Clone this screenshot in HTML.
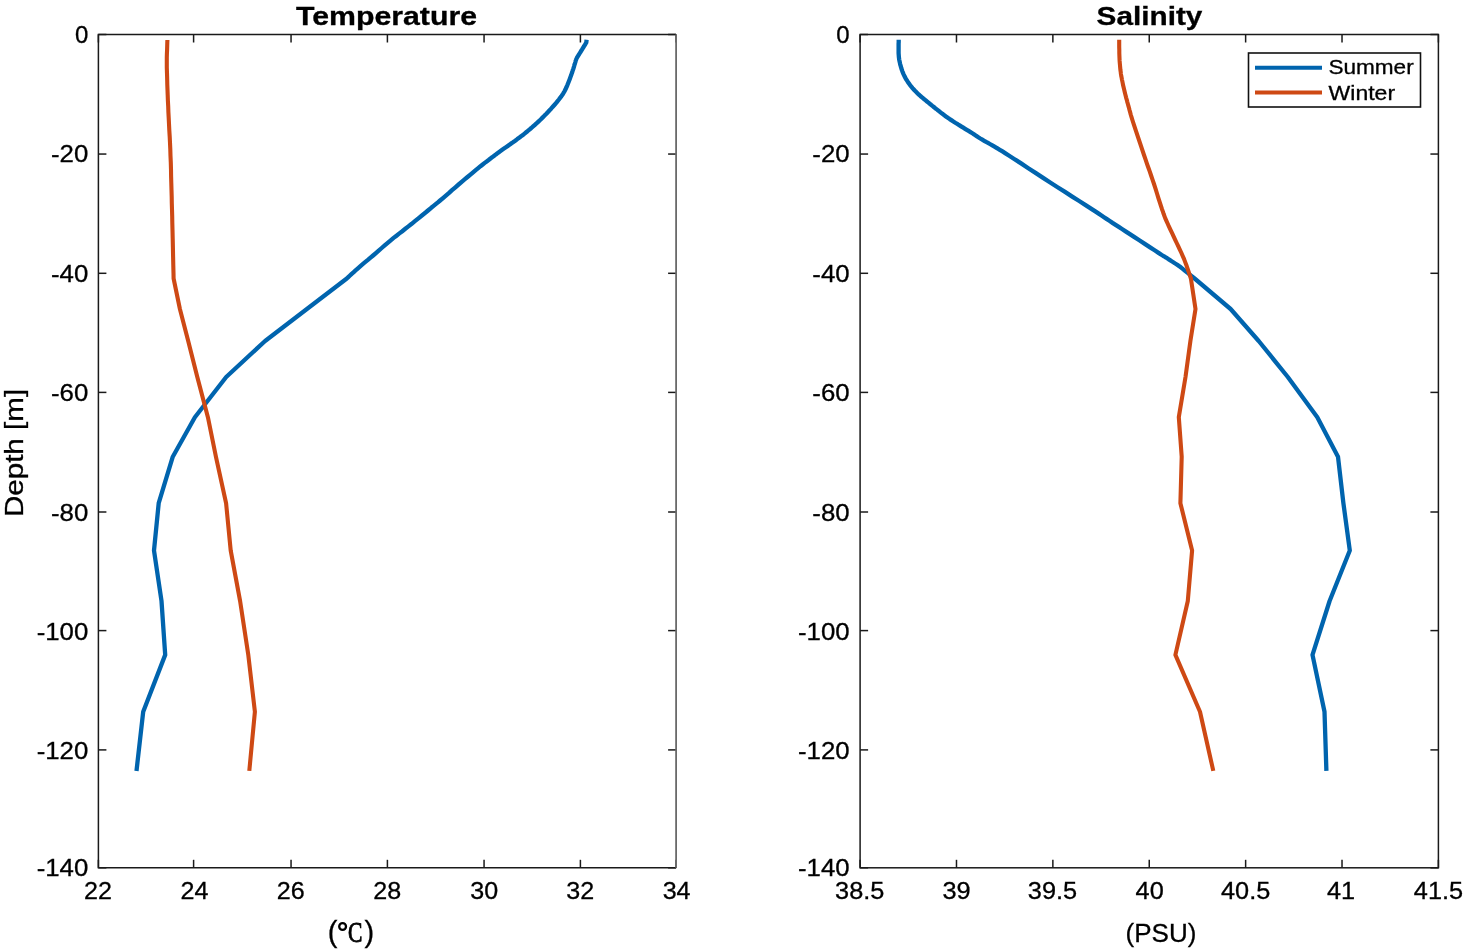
<!DOCTYPE html>
<html><head><meta charset="utf-8"><style>
html,body{margin:0;padding:0;background:#fff;}
svg{display:block;will-change:transform;filter:blur(0.35px);}
text{stroke:#000;stroke-width:0.3px;}
</style></head><body>
<svg width="1465" height="950" viewBox="0 0 1465 950">
<rect width="1465" height="950" fill="#fff"/>
<g stroke="#1a1a1a" stroke-width="1.5"><line x1="98.40" y1="34.5" x2="98.40" y2="42.5" /><line x1="98.40" y1="867.8" x2="98.40" y2="859.8" /><line x1="193.60" y1="34.5" x2="193.60" y2="42.5" /><line x1="193.60" y1="867.8" x2="193.60" y2="859.8" /><line x1="291.05" y1="34.5" x2="291.05" y2="42.5" /><line x1="291.05" y1="867.8" x2="291.05" y2="859.8" /><line x1="387.40" y1="34.5" x2="387.40" y2="42.5" /><line x1="387.40" y1="867.8" x2="387.40" y2="859.8" /><line x1="484.06" y1="34.5" x2="484.06" y2="42.5" /><line x1="484.06" y1="867.8" x2="484.06" y2="859.8" /><line x1="580.40" y1="34.5" x2="580.40" y2="42.5" /><line x1="580.40" y1="867.8" x2="580.40" y2="859.8" /><line x1="676.10" y1="34.5" x2="676.10" y2="42.5" /><line x1="676.10" y1="867.8" x2="676.10" y2="859.8" /><line x1="98.4" y1="34.50" x2="106.4" y2="34.50" /><line x1="676.1" y1="34.50" x2="668.1" y2="34.50" /><line x1="98.4" y1="154.05" x2="106.4" y2="154.05" /><line x1="676.1" y1="154.05" x2="668.1" y2="154.05" /><line x1="98.4" y1="273.30" x2="106.4" y2="273.30" /><line x1="676.1" y1="273.30" x2="668.1" y2="273.30" /><line x1="98.4" y1="392.40" x2="106.4" y2="392.40" /><line x1="676.1" y1="392.40" x2="668.1" y2="392.40" /><line x1="98.4" y1="512.00" x2="106.4" y2="512.00" /><line x1="676.1" y1="512.00" x2="668.1" y2="512.00" /><line x1="98.4" y1="630.60" x2="106.4" y2="630.60" /><line x1="676.1" y1="630.60" x2="668.1" y2="630.60" /><line x1="98.4" y1="749.90" x2="106.4" y2="749.90" /><line x1="676.1" y1="749.90" x2="668.1" y2="749.90" /><line x1="98.4" y1="867.80" x2="106.4" y2="867.80" /><line x1="676.1" y1="867.80" x2="668.1" y2="867.80" /><path d="M676.1,34.5 L98.4,34.5 L98.4,867.8 L676.1,867.8" fill="none"/><line x1="676.1" y1="34.5" x2="676.1" y2="867.8" stroke="#6a6a6a" stroke-width="1.8"/></g>
<g stroke="#1a1a1a" stroke-width="1.5"><line x1="860.10" y1="34.5" x2="860.10" y2="42.5" /><line x1="860.10" y1="867.8" x2="860.10" y2="859.8" /><line x1="956.48" y1="34.5" x2="956.48" y2="42.5" /><line x1="956.48" y1="867.8" x2="956.48" y2="859.8" /><line x1="1052.87" y1="34.5" x2="1052.87" y2="42.5" /><line x1="1052.87" y1="867.8" x2="1052.87" y2="859.8" /><line x1="1149.25" y1="34.5" x2="1149.25" y2="42.5" /><line x1="1149.25" y1="867.8" x2="1149.25" y2="859.8" /><line x1="1245.63" y1="34.5" x2="1245.63" y2="42.5" /><line x1="1245.63" y1="867.8" x2="1245.63" y2="859.8" /><line x1="1342.02" y1="34.5" x2="1342.02" y2="42.5" /><line x1="1342.02" y1="867.8" x2="1342.02" y2="859.8" /><line x1="1438.40" y1="34.5" x2="1438.40" y2="42.5" /><line x1="1438.40" y1="867.8" x2="1438.40" y2="859.8" /><line x1="860.1" y1="34.50" x2="868.1" y2="34.50" /><line x1="1438.4" y1="34.50" x2="1430.4" y2="34.50" /><line x1="860.1" y1="154.05" x2="868.1" y2="154.05" /><line x1="1438.4" y1="154.05" x2="1430.4" y2="154.05" /><line x1="860.1" y1="273.30" x2="868.1" y2="273.30" /><line x1="1438.4" y1="273.30" x2="1430.4" y2="273.30" /><line x1="860.1" y1="392.40" x2="868.1" y2="392.40" /><line x1="1438.4" y1="392.40" x2="1430.4" y2="392.40" /><line x1="860.1" y1="512.00" x2="868.1" y2="512.00" /><line x1="1438.4" y1="512.00" x2="1430.4" y2="512.00" /><line x1="860.1" y1="630.60" x2="868.1" y2="630.60" /><line x1="1438.4" y1="630.60" x2="1430.4" y2="630.60" /><line x1="860.1" y1="749.90" x2="868.1" y2="749.90" /><line x1="1438.4" y1="749.90" x2="1430.4" y2="749.90" /><line x1="860.1" y1="867.80" x2="868.1" y2="867.80" /><line x1="1438.4" y1="867.80" x2="1430.4" y2="867.80" /><rect x="860.1" y="34.5" width="578.3000000000001" height="833.3" fill="none"/></g>
<polyline points="586.6,39.8 586.3,42.5 586.1,42.8 585.9,43.1 585.7,43.5 585.4,44.1 585.0,44.7 584.5,45.5 583.9,46.5 583.1,47.7 582.3,49.1 581.4,50.5 580.6,51.8 579.9,53.0 579.3,54.0 578.6,55.0 578.1,55.9 577.5,56.7 577.0,57.6 576.6,58.5 576.2,59.4 575.9,60.3 575.6,61.1 575.4,62.0 575.1,63.0 574.8,64.0 574.4,65.1 574.1,66.3 573.7,67.6 573.3,68.9 572.8,70.2 572.4,71.5 572.0,72.7 571.6,73.9 571.2,75.2 570.7,76.4 570.2,77.8 569.6,79.4 568.9,81.2 568.1,83.2 567.3,85.3 566.3,87.5 565.4,89.6 564.4,91.5 563.4,93.2 562.4,94.8 561.3,96.4 560.1,97.9 558.9,99.5 557.6,101.1 556.2,102.9 554.6,104.7 553.0,106.5 551.3,108.4 549.6,110.2 548.0,112.0 546.4,113.7 544.8,115.3 543.3,116.9 541.7,118.4 540.1,120.0 538.4,121.6 536.7,123.2 534.9,124.8 533.1,126.4 531.3,128.0 529.4,129.6 527.5,131.2 525.5,132.8 523.6,134.4 521.5,135.9 519.5,137.5 517.3,139.1 515.2,140.7 513.0,142.3 510.6,143.9 508.3,145.6 505.9,147.2 503.6,148.8 501.5,150.3 499.5,151.7 497.7,153.1 495.9,154.4 494.2,155.7 492.4,157.1 490.5,158.5 488.6,160.0 486.7,161.4 484.7,162.9 482.7,164.5 480.5,166.2 478.2,168.1 475.7,170.1 473.1,172.3 470.4,174.6 467.5,177.0 464.6,179.4 461.7,181.9 458.6,184.5 455.4,187.3 452.0,190.2 448.8,193.1 445.6,195.8 442.7,198.3 440.1,200.5 437.9,202.4 435.7,204.2 433.6,205.9 431.2,207.8 428.6,210.0 425.6,212.5 422.2,215.2 418.7,218.1 415.2,220.9 411.7,223.8 408.4,226.4 405.3,228.8 402.3,231.2 399.4,233.4 396.5,235.7 393.6,237.9 390.7,240.3 387.7,242.8 384.7,245.4 381.7,248.0 378.7,250.6 375.9,253.1 373.1,255.5 370.5,257.7 367.9,259.9 365.4,261.9 363.0,263.9 360.7,265.9 358.5,267.8 356.2,269.8 354.0,271.9 351.7,273.9 349.7,275.8 348.0,277.4 346.8,278.5 306.9,309.0 265.1,341.0 226.2,377.0 194.9,417.2 172.8,456.7 158.7,503.2 154.0,550.5 161.5,601.0 165.2,654.9 143.2,711.7 136.5,770.9" fill="none" stroke="#0064AE" stroke-width="4.3" stroke-linejoin="round" stroke-linecap="butt"/>
<polyline points="167.4,40.0 167.3,42.4 167.2,45.7 167.1,49.6 166.9,53.8 166.8,57.9 166.8,61.6 166.8,64.8 166.8,67.6 166.9,70.4 167.0,73.4 167.1,76.6 167.2,80.5 167.3,85.0 167.5,89.9 167.7,95.1 167.9,100.7 168.2,106.4 168.4,112.1 168.7,117.9 169.0,124.0 169.3,130.2 169.7,136.5 170.0,142.9 170.3,149.4 170.5,156.0 170.8,162.7 171.0,169.5 171.1,176.4 171.3,183.2 171.5,190.0 171.7,196.6 171.8,203.1 172.0,209.5 172.2,216.1 172.3,222.8 172.5,230.0 172.7,238.2 172.9,247.3 173.1,256.8 173.3,265.6 173.5,273.1 173.6,278.5 179.9,309.0 188.2,341.0 197.3,377.0 207.9,417.2 215.9,456.7 226.1,503.2 230.7,550.5 240.1,601.0 248.3,654.9 254.9,711.7 249.3,770.9" fill="none" stroke="#CE4914" stroke-width="4.1" stroke-linejoin="round" stroke-linecap="butt"/>
<polyline points="898.7,39.8 898.7,40.8 898.7,42.2 898.6,43.8 898.6,45.5 898.6,47.2 898.6,48.8 898.6,50.2 898.6,51.7 898.6,53.1 898.7,54.5 898.8,55.9 898.9,57.3 899.1,58.7 899.3,60.1 899.6,61.5 899.9,62.9 900.2,64.3 900.6,65.7 901.0,67.1 901.4,68.5 901.9,70.0 902.4,71.4 902.9,72.7 903.5,74.1 904.1,75.4 904.7,76.7 905.4,77.9 906.1,79.2 906.9,80.4 907.7,81.7 908.6,83.0 909.5,84.3 910.5,85.6 911.5,86.8 912.5,88.1 913.6,89.3 914.7,90.5 915.8,91.6 916.9,92.7 918.0,93.8 919.2,94.9 920.4,96.0 921.7,97.1 923.0,98.2 924.3,99.3 925.7,100.4 927.0,101.5 928.4,102.6 929.7,103.7 931.1,104.8 932.4,105.9 933.8,107.0 935.2,108.2 936.8,109.4 938.5,110.7 940.2,112.1 942.1,113.6 944.0,115.0 945.9,116.4 947.8,117.8 949.7,119.1 951.7,120.4 953.7,121.7 955.7,123.0 957.7,124.2 959.6,125.4 961.5,126.6 963.3,127.7 965.1,128.8 966.8,129.8 968.6,130.9 970.5,132.1 972.4,133.3 974.4,134.6 976.3,135.9 978.3,137.2 980.3,138.5 982.3,139.7 984.2,140.8 986.1,141.9 988.0,142.9 989.9,144.0 991.9,145.1 994.1,146.4 996.1,147.6 997.9,148.7 999.8,149.8 1002.1,151.2 1005.1,153.1 1009.2,155.7 1014.6,159.2 1021.1,163.4 1028.3,168.2 1035.9,173.1 1043.5,178.1 1050.6,182.7 1057.6,187.2 1065.0,191.9 1072.2,196.6 1079.2,201.0 1085.6,205.1 1091.0,208.6 1095.3,211.4 1098.7,213.6 1101.5,215.5 1104.0,217.2 1106.5,218.9 1109.4,220.8 1112.5,222.9 1115.6,224.9 1118.8,226.9 1122.0,229.0 1125.6,231.4 1129.5,233.9 1134.1,236.9 1139.3,240.3 1144.8,243.9 1150.1,247.4 1155.0,250.5 1158.9,253.1 1161.8,255.0 1164.0,256.3 1165.7,257.4 1167.1,258.2 1168.4,259.1 1170.0,260.1 1171.7,261.2 1173.3,262.2 1174.8,263.2 1176.4,264.2 1178.2,265.4 1180.1,266.8 1182.4,268.6 1185.1,270.8 1188.0,273.1 1190.7,275.3 1193.0,277.2 1194.6,278.5 1230.6,309.0 1258.7,341.0 1287.8,377.0 1317.3,417.2 1338.0,456.7 1343.4,503.2 1349.8,550.5 1329.6,601.0 1312.5,654.9 1324.5,711.7 1326.4,770.9" fill="none" stroke="#0064AE" stroke-width="4.3" stroke-linejoin="round" stroke-linecap="butt"/>
<polyline points="1119.2,39.8 1119.2,41.5 1119.2,44.0 1119.2,46.9 1119.3,49.9 1119.3,53.0 1119.4,55.7 1119.5,58.2 1119.6,60.7 1119.8,63.1 1120.0,65.4 1120.2,67.7 1120.4,69.9 1120.7,71.9 1120.9,73.8 1121.2,75.7 1121.6,77.5 1121.9,79.3 1122.3,81.2 1122.7,83.2 1123.1,85.3 1123.6,87.3 1124.1,89.4 1124.6,91.5 1125.1,93.6 1125.6,95.6 1126.1,97.6 1126.7,99.6 1127.2,101.6 1127.8,103.7 1128.4,105.9 1129.0,108.0 1129.5,110.0 1130.1,112.1 1130.7,114.5 1131.6,117.4 1132.7,121.0 1134.2,125.7 1136.1,131.3 1138.1,137.4 1140.2,143.7 1142.2,149.7 1144.0,155.0 1145.6,159.6 1147.0,163.8 1148.4,167.8 1149.8,171.6 1151.1,175.5 1152.5,179.6 1154.0,184.0 1155.5,188.7 1157.0,193.5 1158.4,198.1 1159.8,202.4 1161.0,206.1 1162.0,209.2 1162.9,211.6 1163.6,213.8 1164.4,215.9 1165.2,218.1 1166.3,220.6 1167.6,223.5 1169.0,226.7 1170.5,229.9 1172.1,233.2 1173.7,236.6 1175.2,239.8 1176.7,243.0 1178.2,246.2 1179.7,249.3 1181.2,252.5 1182.6,255.7 1184.0,258.9 1185.3,262.4 1186.7,266.1 1188.0,269.9 1189.2,273.4 1190.2,276.4 1190.9,278.5 1195.5,309.0 1190.4,341.0 1185.5,377.0 1178.8,417.2 1181.7,456.7 1180.4,503.2 1192.1,550.5 1187.8,601.0 1175.4,654.9 1200.0,711.7 1213.3,770.9" fill="none" stroke="#CE4914" stroke-width="4.1" stroke-linejoin="round" stroke-linecap="butt"/>
<text x="88.30" y="43.20" font-family="&quot;Liberation Sans&quot;, sans-serif" font-size="24" font-weight="normal" text-anchor="end">0</text>
<text x="849.60" y="43.20" font-family="&quot;Liberation Sans&quot;, sans-serif" font-size="24" font-weight="normal" text-anchor="end">0</text>
<text x="88.30" y="162.40" font-family="&quot;Liberation Sans&quot;, sans-serif" font-size="24" font-weight="normal" text-anchor="end" textLength="37.29" lengthAdjust="spacingAndGlyphs">-20</text>
<text x="849.60" y="162.40" font-family="&quot;Liberation Sans&quot;, sans-serif" font-size="24" font-weight="normal" text-anchor="end" textLength="37.29" lengthAdjust="spacingAndGlyphs">-20</text>
<text x="88.30" y="282.40" font-family="&quot;Liberation Sans&quot;, sans-serif" font-size="24" font-weight="normal" text-anchor="end" textLength="37.29" lengthAdjust="spacingAndGlyphs">-40</text>
<text x="849.60" y="282.40" font-family="&quot;Liberation Sans&quot;, sans-serif" font-size="24" font-weight="normal" text-anchor="end" textLength="37.29" lengthAdjust="spacingAndGlyphs">-40</text>
<text x="88.30" y="400.80" font-family="&quot;Liberation Sans&quot;, sans-serif" font-size="24" font-weight="normal" text-anchor="end" textLength="37.29" lengthAdjust="spacingAndGlyphs">-60</text>
<text x="849.60" y="400.80" font-family="&quot;Liberation Sans&quot;, sans-serif" font-size="24" font-weight="normal" text-anchor="end" textLength="37.29" lengthAdjust="spacingAndGlyphs">-60</text>
<text x="88.30" y="521.20" font-family="&quot;Liberation Sans&quot;, sans-serif" font-size="24" font-weight="normal" text-anchor="end" textLength="37.29" lengthAdjust="spacingAndGlyphs">-80</text>
<text x="849.60" y="521.20" font-family="&quot;Liberation Sans&quot;, sans-serif" font-size="24" font-weight="normal" text-anchor="end" textLength="37.29" lengthAdjust="spacingAndGlyphs">-80</text>
<text x="88.30" y="639.60" font-family="&quot;Liberation Sans&quot;, sans-serif" font-size="24" font-weight="normal" text-anchor="end" textLength="51.64" lengthAdjust="spacingAndGlyphs">-100</text>
<text x="849.60" y="639.60" font-family="&quot;Liberation Sans&quot;, sans-serif" font-size="24" font-weight="normal" text-anchor="end" textLength="51.64" lengthAdjust="spacingAndGlyphs">-100</text>
<text x="88.30" y="758.80" font-family="&quot;Liberation Sans&quot;, sans-serif" font-size="24" font-weight="normal" text-anchor="end" textLength="51.64" lengthAdjust="spacingAndGlyphs">-120</text>
<text x="849.60" y="758.80" font-family="&quot;Liberation Sans&quot;, sans-serif" font-size="24" font-weight="normal" text-anchor="end" textLength="51.64" lengthAdjust="spacingAndGlyphs">-120</text>
<text x="88.30" y="876.40" font-family="&quot;Liberation Sans&quot;, sans-serif" font-size="24" font-weight="normal" text-anchor="end" textLength="51.64" lengthAdjust="spacingAndGlyphs">-140</text>
<text x="849.60" y="876.40" font-family="&quot;Liberation Sans&quot;, sans-serif" font-size="24" font-weight="normal" text-anchor="end" textLength="51.64" lengthAdjust="spacingAndGlyphs">-140</text>
<text x="97.90" y="899.00" font-family="&quot;Liberation Sans&quot;, sans-serif" font-size="24" font-weight="normal" text-anchor="middle" textLength="27.9" lengthAdjust="spacingAndGlyphs">22</text>
<text x="859.70" y="899.00" font-family="&quot;Liberation Sans&quot;, sans-serif" font-size="24" font-weight="normal" text-anchor="middle" textLength="49.28" lengthAdjust="spacingAndGlyphs">38.5</text>
<text x="194.55" y="899.00" font-family="&quot;Liberation Sans&quot;, sans-serif" font-size="24" font-weight="normal" text-anchor="middle" textLength="27.9" lengthAdjust="spacingAndGlyphs">24</text>
<text x="956.48" y="899.00" font-family="&quot;Liberation Sans&quot;, sans-serif" font-size="24" font-weight="normal" text-anchor="middle" textLength="28.16" lengthAdjust="spacingAndGlyphs">39</text>
<text x="290.75" y="899.00" font-family="&quot;Liberation Sans&quot;, sans-serif" font-size="24" font-weight="normal" text-anchor="middle" textLength="27.9" lengthAdjust="spacingAndGlyphs">26</text>
<text x="1052.47" y="899.00" font-family="&quot;Liberation Sans&quot;, sans-serif" font-size="24" font-weight="normal" text-anchor="middle" textLength="49.28" lengthAdjust="spacingAndGlyphs">39.5</text>
<text x="387.20" y="899.00" font-family="&quot;Liberation Sans&quot;, sans-serif" font-size="24" font-weight="normal" text-anchor="middle" textLength="27.9" lengthAdjust="spacingAndGlyphs">28</text>
<text x="1149.65" y="899.00" font-family="&quot;Liberation Sans&quot;, sans-serif" font-size="24" font-weight="normal" text-anchor="middle" textLength="28.16" lengthAdjust="spacingAndGlyphs">40</text>
<text x="484.16" y="899.00" font-family="&quot;Liberation Sans&quot;, sans-serif" font-size="24" font-weight="normal" text-anchor="middle" textLength="27.9" lengthAdjust="spacingAndGlyphs">30</text>
<text x="1245.63" y="899.00" font-family="&quot;Liberation Sans&quot;, sans-serif" font-size="24" font-weight="normal" text-anchor="middle" textLength="49.28" lengthAdjust="spacingAndGlyphs">40.5</text>
<text x="580.20" y="899.00" font-family="&quot;Liberation Sans&quot;, sans-serif" font-size="24" font-weight="normal" text-anchor="middle" textLength="27.9" lengthAdjust="spacingAndGlyphs">32</text>
<text x="1341.12" y="899.00" font-family="&quot;Liberation Sans&quot;, sans-serif" font-size="24" font-weight="normal" text-anchor="middle" textLength="28.16" lengthAdjust="spacingAndGlyphs">41</text>
<text x="676.60" y="899.00" font-family="&quot;Liberation Sans&quot;, sans-serif" font-size="24" font-weight="normal" text-anchor="middle" textLength="27.9" lengthAdjust="spacingAndGlyphs">34</text>
<text x="1438.45" y="899.00" font-family="&quot;Liberation Sans&quot;, sans-serif" font-size="24" font-weight="normal" text-anchor="middle" textLength="49.28" lengthAdjust="spacingAndGlyphs">41.5</text>
<text x="386.50" y="25.00" font-family="&quot;Liberation Sans&quot;, sans-serif" font-size="25" font-weight="bold" text-anchor="middle" textLength="181.15" lengthAdjust="spacingAndGlyphs">Temperature</text>
<text x="1149.50" y="25.00" font-family="&quot;Liberation Sans&quot;, sans-serif" font-size="25" font-weight="bold" text-anchor="middle" textLength="105.81" lengthAdjust="spacingAndGlyphs">Salinity</text>
<text x="0" y="0" transform="translate(23,453) rotate(-90)" font-family="&quot;Liberation Sans&quot;, sans-serif" font-size="26" text-anchor="middle" textLength="128.26" lengthAdjust="spacingAndGlyphs">Depth [m]</text>
<text x="327.80" y="942.20" font-family="&quot;Liberation Sans&quot;, sans-serif" font-size="29" font-weight="normal" text-anchor="start">(</text>
<text x="364.40" y="942.20" font-family="&quot;Liberation Sans&quot;, sans-serif" font-size="29" font-weight="normal" text-anchor="start">)</text>
<circle cx="342.6" cy="926.5" r="3.4" fill="none" stroke="#000" stroke-width="2.3"/>
<text x="348.00" y="941.90" font-family="&quot;Liberation Serif&quot;, serif" font-size="28.6" font-weight="normal" text-anchor="start" textLength="14.4" lengthAdjust="spacingAndGlyphs" style="stroke-width:0.9px">C</text>
<text x="1161.00" y="942.00" font-family="&quot;Liberation Sans&quot;, sans-serif" font-size="26" font-weight="normal" text-anchor="middle">(PSU)</text>
<rect x="1248.5" y="53" width="172" height="54" fill="#fff" stroke="#111" stroke-width="1.6"/>
<line x1="1255" y1="67.7" x2="1322" y2="67.7" stroke="#0064AE" stroke-width="4"/>
<line x1="1255" y1="92.6" x2="1322" y2="92.6" stroke="#CE4914" stroke-width="4"/>
<text x="1328.40" y="74.40" font-family="&quot;Liberation Sans&quot;, sans-serif" font-size="19.5" font-weight="normal" text-anchor="start" textLength="85.32" lengthAdjust="spacingAndGlyphs">Summer</text>
<text x="1328.60" y="100.20" font-family="&quot;Liberation Sans&quot;, sans-serif" font-size="19.5" font-weight="normal" text-anchor="start" textLength="66.48" lengthAdjust="spacingAndGlyphs">Winter</text>
</svg>
</body></html>
